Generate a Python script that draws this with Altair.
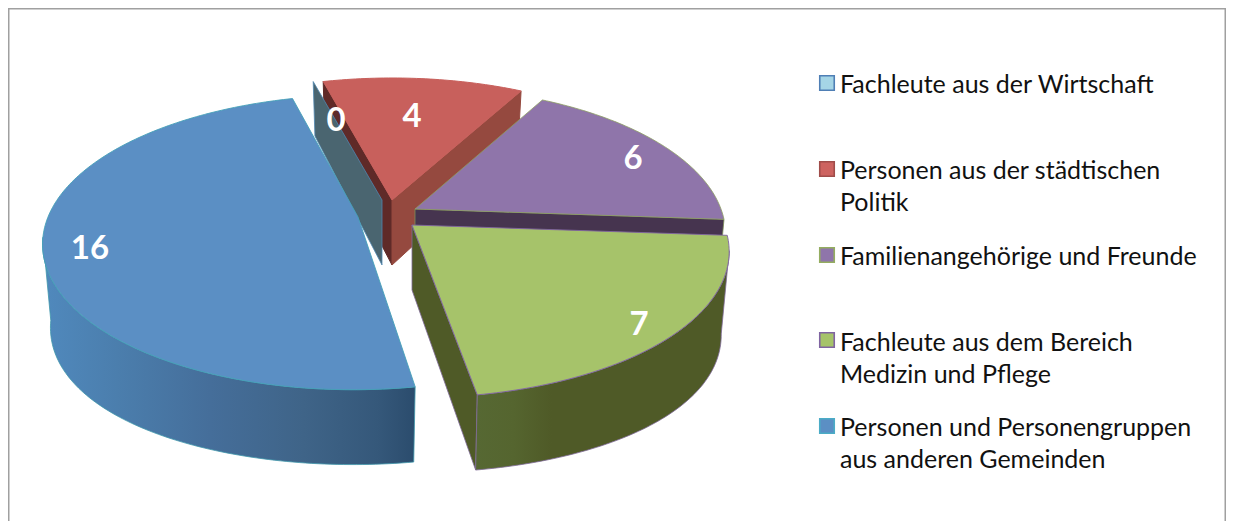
import math
import altair as alt

# ---- values
categories = ["Fachleute aus der Wirtschaft", "Personen aus der städtischen Politik",
              "Familienangehörige und Freunde", "Fachleute aus dem Bereich Medizin und Pflege",
              "Personen und Personengruppen aus anderen Gemeinden"]
values = [0, 4, 6, 7, 16]
legend_lines = [["Fachleute aus der Wirtschaft"],
                ["Personen aus der städtischen", "Politik"],
                ["Familienangehörige und Freunde"],
                ["Fachleute aus dem Bereich", "Medizin und Pflege"],
                ["Personen und Personengruppen", "aus anderen Gemeinden"]]
legend_swatch_y = [83, 169, 255, 340, 426]
legend_base_y = [[93], [179, 211], [265], [351, 383], [436, 468]]
legend_fill = ["#a5d5e6", "#cd6360", "#8f75aa", "#a6c36a", "#5b8fc4"]
legend_stroke = ["#4f7fb5", "#a04d4a", "#94ad60", "#8064a2", "#4bacc6"]
value_label_x = [336, 412, 633, 639, 90]
value_label_y = [121, 117, 159, 325, 249]
apex_x = [382, 392, 415, 412, 358]
apex_y = [200, 200, 209, 225, 217]

# ---- drawing model of the tilted, exploded pie
START = -15.0
RY, K, DEPTH, BOTTOM_SCALE, SIDE_DROP = 143.0, 0.172, 62.0, 0.975, 20.0
RXS = [310.0, 310.0, 306.0, 312.0, 310.0]
SHEAR = [0, 0, 0, -2.5, 4.0]
total = sum(values)
edges = [START]
for v in values:
    edges.append(edges[-1] + 360.0 * v / total)


def top(i, t):
    a = math.radians(t)
    z = math.cos(a)
    s = 1 / (1 + K * z)
    return [apex_x[i] + (RXS[i] * math.sin(a) + SHEAR[i] * z) * s, apex_y[i] - RY * z * s]


def bottom(i, t):
    a = math.radians(t)
    s = 1 / (1 + K * math.cos(a))
    p = top(i, t)
    return [apex_x[i] + (p[0] - apex_x[i]) * BOTTOM_SCALE,
            p[1] + DEPTH * s + SIDE_DROP * math.sin(a) ** 2]


def arc(i, t0, t1, fn):
    n = max(2, int(abs(t1 - t0)))
    return [fn(i, t0 + (t1 - t0) * j / n) for j in range(n + 1)]


def apex_top(i):
    return [apex_x[i], apex_y[i]]


def apex_bot(i):
    return [apex_x[i], apex_y[i] + DEPTH + 3]


def poly(points):
    return [points + [points[0]]]


def shape(points, fill, stroke=None, width=1.0):
    feature = {"type": "Feature", "properties": {},
               "geometry": {"type": "Polygon", "coordinates": poly(points)}}
    kw = {"fill": fill, "strokeWidth": width}
    kw["stroke"] = stroke if stroke else fill
    return alt.Chart(alt.InlineData(values=[feature])).mark_geoshape(**kw).project(**PROJ)


def line(points, color, width):
    feature = {"type": "Feature", "properties": {},
               "geometry": {"type": "LineString", "coordinates": points}}
    return alt.Chart(alt.InlineData(values=[feature])).mark_geoshape(
        filled=False, stroke=color, strokeWidth=width).project(**PROJ)


def grad(stops):
    return {"gradient": "linear", "x1": 0, "x2": 1, "y1": 0, "y2": 0,
            "stops": [{"offset": o, "color": c} for o, c in stops]}


PROJ = dict(type="identity", scale=1, translate=[-8, -8])

layers = []
# frame
layers.append(line([[8.75, 522], [8.75, 8.75], [1225.25, 8.75], [1225.25, 522]], "#a0a0a0", 1.5))

# Politik: left cut wall lies behind the zero slice
i = 1
layers.append(shape([top(i, edges[1]), apex_top(i), apex_bot(i), bottom(i, edges[1])], "#5f2a28"))
# zero slice: only its cut wall shows
i = 0
layers.append(shape([top(i, edges[0]), apex_top(i), apex_bot(i), bottom(i, edges[0])], "#4a6570", "#4f87b0", 0.8))
# Politik
i = 1
layers.append(shape([apex_top(i), top(i, edges[2]), bottom(i, edges[2]), apex_bot(i)], "#95493f"))
layers.append(shape([apex_top(i)] + arc(i, edges[1], edges[2], top), "#c8605c"))
# Familie
i = 2
layers.append(shape([apex_top(i), top(i, edges[3]), bottom(i, edges[3]), apex_bot(i)], "#46344f", "#7c8f58", 0.8))
layers.append(shape([apex_top(i)] + arc(i, edges[2], edges[3], top), "#8f75aa", "#8ea064", 0.8))
# Medizin
i = 3
green_wall_start = 100
layers.append(shape([apex_top(i), top(i, edges[4]), bottom(i, edges[4]), apex_bot(i)], "#4f5a27", "#7f6a98", 0.8))
layers.append(shape(arc(i, green_wall_start, edges[4], top) + arc(i, edges[4], green_wall_start, bottom),
                    grad([(0, "#566833"), (0.15, "#55652f"), (0.3, "#4f5a27"), (1, "#4f5a27")]), "#7f6a98", 0.8))
layers.append(shape([apex_top(i)] + arc(i, edges[3], edges[4], top), "#a6c36a", "#8064a2", 0.9))
# Gemeinden
i = 4
wall_end = 262
layers.append(shape(arc(i, edges[4], wall_end, top) + arc(i, wall_end, edges[4], bottom),
                    grad([(0, "#5089bd"), (0.2, "#4b7ead"), (0.45, "#456e9a"), (0.7, "#3f6488"),
                          (0.9, "#35587a"), (1, "#2b4c6d")]), "#3f97ab", 0.8))
layers.append(shape([apex_top(i)] + arc(i, edges[4], edges[5], top), "#5b8fc4", "#45a0b8", 0.9))

# value labels
label_rows = [{"x": x, "y": y, "v": str(v)} for x, y, v in zip(value_label_x, value_label_y, values)]
layers.append(alt.Chart(alt.InlineData(values=label_rows)).mark_text(
    font="Lato", fontSize=33, fontWeight="bold", color="white", baseline="middle", align="center"
).encode(longitude="x:Q", latitude="y:Q", text="v:N").project(**PROJ))

# legend
swatch_rows = [{"x": 827, "y": y, "f": f, "s": s}
               for y, f, s in zip(legend_swatch_y, legend_fill, legend_stroke)]
for r in swatch_rows:
    layers.append(alt.Chart(alt.InlineData(values=[r])).mark_square(
        size=210, fill=r["f"], stroke=r["s"], strokeWidth=1.6, opacity=1
    ).encode(longitude="x:Q", latitude="y:Q").project(**PROJ))
text_rows = []
for lines, ys in zip(legend_lines, legend_base_y):
    for t, y in zip(lines, ys):
        text_rows.append({"x": 840, "y": y, "t": t})
layers.append(alt.Chart(alt.InlineData(values=text_rows)).mark_text(
    font="Lato", fontSize=25, color="#111111", align="left", baseline="alphabetic"
).encode(longitude="x:Q", latitude="y:Q", text="t:N").project(**PROJ))

chart = alt.layer(*layers).properties(
    width=1218, height=513, padding=0, autosize=alt.AutoSizeParams(type="none"), background="white"
).configure_view(stroke=None)
chart.save("out.html", embed_options={"renderer": "svg", "actions": False})
